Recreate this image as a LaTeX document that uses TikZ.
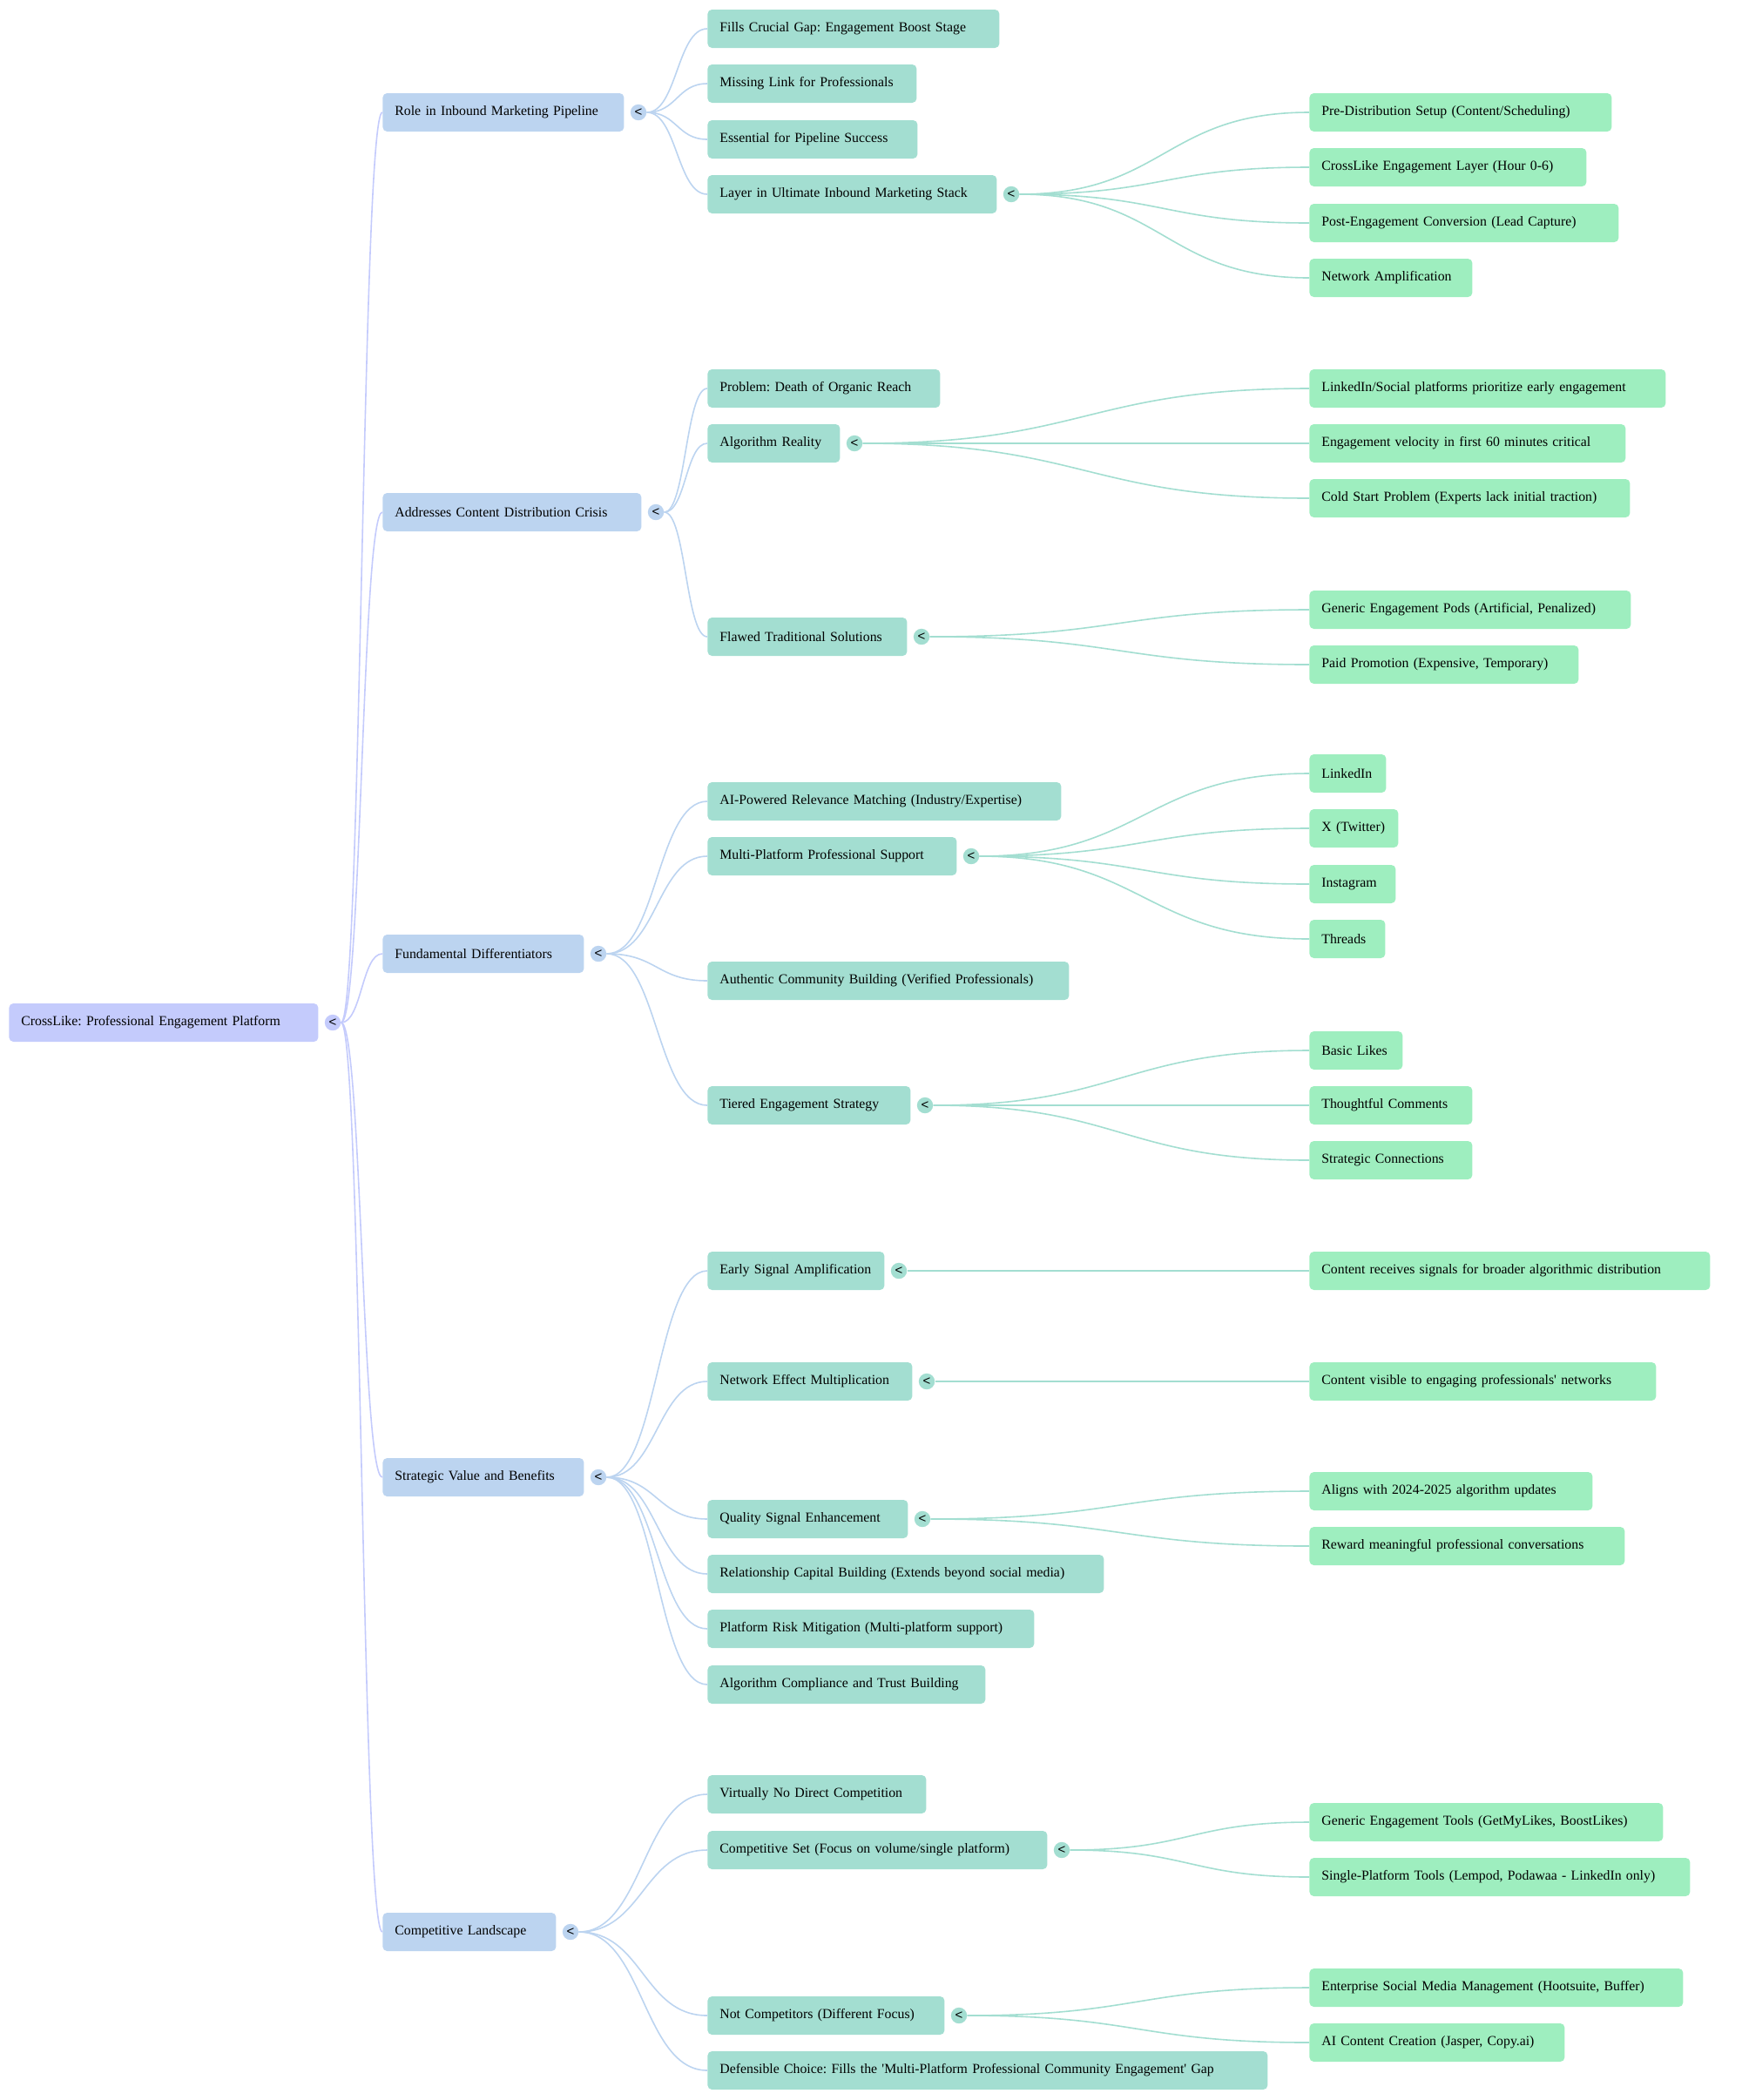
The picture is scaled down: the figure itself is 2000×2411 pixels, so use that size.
\documentclass[tikz,border=0pt]{standalone}
\usepackage{fontspec}
\newfontfamily\tf{Liberation Serif}
\newfontfamily\cf{Liberation Sans}
\usetikzlibrary{calc}
\definecolor{c0}{RGB}{196,203,252}
\definecolor{c1}{RGB}{188,212,240}
\definecolor{c2}{RGB}{163,222,209}
\definecolor{c3}{RGB}{158,238,191}
\frenchspacing
\tikzset{
  box/.style={anchor=west, rounded corners=2.5pt, minimum height=22pt, inner xsep=7pt, inner ysep=0pt,
    font=\tf\fontsize{7.9}{9}\selectfont\frenchspacing, align=left, text=black},
  b0/.style={box, fill=c0},
  b1/.style={box, fill=c1},
  b2/.style={box, fill=c2},
  b3/.style={box, fill=c3},
  tog/.style={circle, inner sep=0pt, minimum size=9.2pt, font=\cf\fontsize{7.5}{8}\selectfont},
  lk/.style={line width=0.8pt}
}
\newcommand\mybox[6]{\pgfmathsetmacro\mybw{(#4-#2-28)*0.5}\node[#5, text width=\mybw pt] (#1) at (#2,#3) {\mbox{#6}};}
\newcommand\mytog[4]{\node[tog, fill=#4] (#1) at (#2,#3) {\raisebox{0.2pt}{<}};}
\newcommand\mylink[3]{\path ($(#1.east)!0.5!(#2.west)$) coordinate (mm);
  \draw[lk, #3] (#1.east) .. controls (mm |- #1.east) and (mm |- #2.west) .. (#2.west);}
\begin{document}
\begin{tikzpicture}[x=0.5pt, y=-0.5pt]
\useasboundingbox (0,0) rectangle (2000,2411);
% root
\mybox{root}{10}{1174}{365}{b0}{CrossLike: Professional Engagement Platform}
\mytog{roott}{382}{1174}{c0}
% level 1
\mybox{r1}{439}{129}{716}{b1}{Role in Inbound Marketing Pipeline}
\mybox{r2}{439}{588}{736}{b1}{Addresses Content Distribution Crisis}
\mybox{r3}{439}{1095}{670}{b1}{Fundamental Differentiators}
\mybox{r4}{439}{1696}{670}{b1}{Strategic Value and Benefits}
\mybox{r5}{439}{2218}{638}{b1}{Competitive Landscape}
\mytog{r1t}{733}{129}{c1}
\mytog{r2t}{753}{588}{c1}
\mytog{r3t}{687}{1095}{c1}
\mytog{r4t}{687}{1696}{c1}
\mytog{r5t}{655}{2218}{c1}
% Role children
\mybox{a1}{812}{33}{1147}{b2}{Fills Crucial Gap: Engagement Boost Stage}
\mybox{a2}{812}{96}{1052}{b2}{Missing Link for Professionals}
\mybox{a3}{812}{160}{1053}{b2}{Essential for Pipeline Success}
\mybox{a4}{812}{223}{1144}{b2}{Layer in Ultimate Inbound Marketing Stack}
\mytog{a4t}{1161}{223}{c2}
\mybox{a4x1}{1503}{129}{1850}{b3}{Pre-Distribution Setup (Content/Scheduling)}
\mybox{a4x2}{1503}{192}{1821}{b3}{CrossLike Engagement Layer (Hour 0-6)}
\mybox{a4x3}{1503}{256}{1858}{b3}{Post-Engagement Conversion (Lead Capture)}
\mybox{a4x4}{1503}{319}{1690}{b3}{Network Amplification}
% Addresses children
\mybox{b1}{812}{446}{1079}{b2}{Problem: Death of Organic Reach}
\mybox{b2}{812}{509}{964}{b2}{Algorithm Reality}
\mybox{b3}{812}{731}{1041}{b2}{Flawed Traditional Solutions}
\mytog{b2t}{981}{509}{c2}
\mytog{b3t}{1058}{731}{c2}
\mybox{b2x1}{1503}{446}{1912}{b3}{LinkedIn/Social platforms prioritize early engagement}
\mybox{b2x2}{1503}{509}{1866}{b3}{Engagement velocity in first 60 minutes critical}
\mybox{b2x3}{1503}{572}{1871}{b3}{Cold Start Problem (Experts lack initial traction)}
\mybox{b3x1}{1503}{700}{1872}{b3}{Generic Engagement Pods (Artificial, Penalized)}
\mybox{b3x2}{1503}{763}{1812}{b3}{Paid Promotion (Expensive, Temporary)}
% Fundamental children
\mybox{c1}{812}{920}{1218}{b2}{AI-Powered Relevance Matching (Industry/Expertise)}
\mybox{c2}{812}{983}{1098}{b2}{Multi-Platform Professional Support}
\mybox{c3}{812}{1126}{1227}{b2}{Authentic Community Building (Verified Professionals)}
\mybox{c4}{812}{1269}{1045}{b2}{Tiered Engagement Strategy}
\mytog{c2t}{1115}{983}{c2}
\mytog{c4t}{1062}{1269}{c2}
\mybox{c2x1}{1503}{888}{1591}{b3}{LinkedIn}
\mybox{c2x2}{1503}{951}{1605}{b3}{X (Twitter)}
\mybox{c2x3}{1503}{1015}{1602}{b3}{Instagram}
\mybox{c2x4}{1503}{1078}{1590}{b3}{Threads}
\mybox{c4x1}{1503}{1206}{1610}{b3}{Basic Likes}
\mybox{c4x2}{1503}{1269}{1690}{b3}{Thoughtful Comments}
\mybox{c4x3}{1503}{1332}{1690}{b3}{Strategic Connections}
% Strategic children
\mybox{d1}{812}{1459}{1015}{b2}{Early Signal Amplification}
\mybox{d2}{812}{1586}{1047}{b2}{Network Effect Multiplication}
\mybox{d3}{812}{1744}{1042}{b2}{Quality Signal Enhancement}
\mybox{d4}{812}{1807}{1267}{b2}{Relationship Capital Building (Extends beyond social media)}
\mybox{d5}{812}{1870}{1187}{b2}{Platform Risk Mitigation (Multi-platform support)}
\mybox{d6}{812}{1934}{1131}{b2}{Algorithm Compliance and Trust Building}
\mytog{d1t}{1032}{1459}{c2}
\mytog{d2t}{1064}{1586}{c2}
\mytog{d3t}{1059}{1744}{c2}
\mybox{d1x1}{1503}{1459}{1963}{b3}{Content receives signals for broader algorithmic distribution}
\mybox{d2x1}{1503}{1586}{1901}{b3}{Content visible to engaging professionals' networks}
\mybox{d3x1}{1503}{1712}{1828}{b3}{Aligns with 2024-2025 algorithm updates}
\mybox{d3x2}{1503}{1775}{1865}{b3}{Reward meaningful professional conversations}
% Competitive children
\mybox{e1}{812}{2060}{1063}{b2}{Virtually No Direct Competition}
\mybox{e2}{812}{2124}{1202}{b2}{Competitive Set (Focus on volume/single platform)}
\mybox{e3}{812}{2314}{1084}{b2}{Not Competitors (Different Focus)}
\mybox{e4}{812}{2377}{1455}{b2}{Defensible Choice: Fills the 'Multi-Platform Professional Community Engagement' Gap}
\mytog{e2t}{1219}{2124}{c2}
\mytog{e3t}{1101}{2314}{c2}
\mybox{e2x1}{1503}{2092}{1909}{b3}{Generic Engagement Tools (GetMyLikes, BoostLikes)}
\mybox{e2x2}{1503}{2155}{1940}{b3}{Single-Platform Tools (Lempod, Podawaa - LinkedIn only)}
\mybox{e3x1}{1503}{2282}{1932}{b3}{Enterprise Social Media Management (Hootsuite, Buffer)}
\mybox{e3x2}{1503}{2345}{1796}{b3}{AI Content Creation (Jasper, Copy.ai)}
% links root -> level 1
\mylink{roott}{r1}{c0}
\mylink{roott}{r2}{c0}
\mylink{roott}{r3}{c0}
\mylink{roott}{r4}{c0}
\mylink{roott}{r5}{c0}
% level 1 -> level 2
\mylink{r1t}{a1}{c1}
\mylink{r1t}{a2}{c1}
\mylink{r1t}{a3}{c1}
\mylink{r1t}{a4}{c1}
\mylink{r2t}{b1}{c1}
\mylink{r2t}{b2}{c1}
\mylink{r2t}{b3}{c1}
\mylink{r3t}{c1}{c1}
\mylink{r3t}{c2}{c1}
\mylink{r3t}{c3}{c1}
\mylink{r3t}{c4}{c1}
\mylink{r4t}{d1}{c1}
\mylink{r4t}{d2}{c1}
\mylink{r4t}{d3}{c1}
\mylink{r4t}{d4}{c1}
\mylink{r4t}{d5}{c1}
\mylink{r4t}{d6}{c1}
\mylink{r5t}{e1}{c1}
\mylink{r5t}{e2}{c1}
\mylink{r5t}{e3}{c1}
\mylink{r5t}{e4}{c1}
% level 2 -> level 3
\mylink{a4t}{a4x1}{c2}
\mylink{a4t}{a4x2}{c2}
\mylink{a4t}{a4x3}{c2}
\mylink{a4t}{a4x4}{c2}
\mylink{b2t}{b2x1}{c2}
\mylink{b2t}{b2x2}{c2}
\mylink{b2t}{b2x3}{c2}
\mylink{b3t}{b3x1}{c2}
\mylink{b3t}{b3x2}{c2}
\mylink{c2t}{c2x1}{c2}
\mylink{c2t}{c2x2}{c2}
\mylink{c2t}{c2x3}{c2}
\mylink{c2t}{c2x4}{c2}
\mylink{c4t}{c4x1}{c2}
\mylink{c4t}{c4x2}{c2}
\mylink{c4t}{c4x3}{c2}
\mylink{d1t}{d1x1}{c2}
\mylink{d2t}{d2x1}{c2}
\mylink{d3t}{d3x1}{c2}
\mylink{d3t}{d3x2}{c2}
\mylink{e2t}{e2x1}{c2}
\mylink{e2t}{e2x2}{c2}
\mylink{e3t}{e3x1}{c2}
\mylink{e3t}{e3x2}{c2}
\end{tikzpicture}
\end{document}
